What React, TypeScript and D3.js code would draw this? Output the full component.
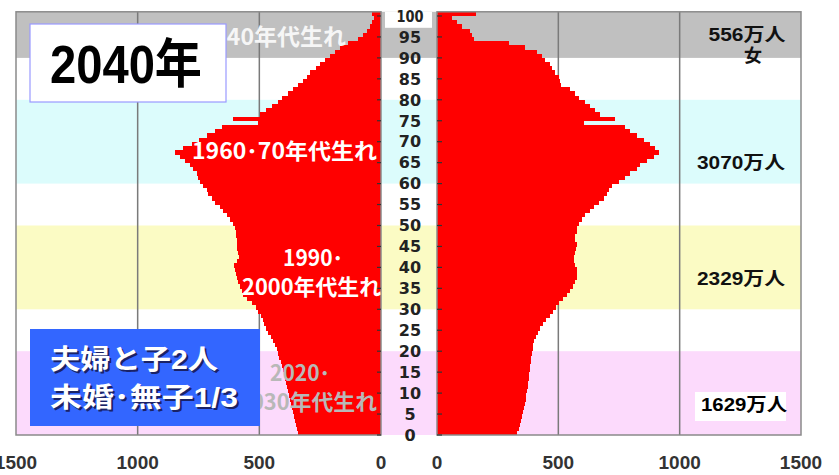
import React from "react";
import * as d3 from "d3";

// population by single year of age, 0..100+ (thousands)
const ages = d3.range(0, 101);
const male = [
  342, 346, 350, 354, 358, 362, 366, 370, 374, 378,
  383, 388, 392, 396, 400, 404, 408, 413, 418, 422,
  429, 436, 443, 454, 463, 472, 480, 486, 494, 504,
  515, 532, 550, 566, 573, 579, 586, 590, 596, 600,
  604, 590, 583, 586, 590, 590, 593, 597, 596, 600,
  607, 621, 634, 648, 662, 682, 696, 709, 716, 730,
  744, 751, 758, 771, 785, 806, 826, 847, 812, 778,
  750, 716, 682, 655, 504, 607, 497, 472, 449, 422,
  405, 381, 360, 340, 319, 305, 290, 268, 250, 230,
  210, 190, 168, 135, 95, 75, 58, 45, 36, 30,
  35,
];
const female = [
  330, 336, 342, 347, 352, 356, 360, 363, 365, 368,
  371, 374, 376, 378, 380, 383, 385, 386, 389, 391,
  394, 397, 401, 408, 415, 423, 437, 450, 464, 478,
  492, 504, 519, 536, 549, 560, 570, 577, 577, 577,
  570, 563, 566, 570, 574, 577, 570, 570, 577, 577,
  584, 597, 611, 632, 646, 666, 687, 700, 707, 721,
  749, 776, 797, 824, 838, 865, 893, 913, 900, 879,
  852, 824, 797, 776, 604, 735, 673, 652, 632, 611,
  584, 570, 549, 511, 508, 501, 488, 474, 467, 446,
  433, 412, 364, 295, 151, 144, 137, 103, 82, 62,
  162,
];

const xTicks = [0, 500, 1000, 1500];
const gridTicks = [500, 1000];
const ageTicks = d3.range(0, 101, 5);

// age bands behind the pyramid
const bandAges: [number, number][] = [[0, 20], [30, 50], [60, 80], [90, 101]];
const bandColors = ["#fcdafc", "#fbfbc4", "#dcfcfc", "#c0c0c0"];

const totals = ["1629万人", "2329万人", "3070万人", "556万人"];
const sexLabel = "女";
const title = "2040年";
const noteLines = ["夫婦と子2人", "未婚･無子1/3"];

const W = 839;
const H = 475;
const latin = "'Liberation Sans', 'Noto Sans CJK JP', sans-serif";
const cjk = "'Noto Sans CJK JP', sans-serif";

export default function App() {
  const y = d3.scaleLinear().domain([0, 101]).range([435, 11.8]);
  const xL = d3.scaleLinear().domain([0, 1500]).range([381, 16]);
  const xR = d3.scaleLinear().domain([0, 1500]).range([437, 801]);
  const bandH = y(0) - y(1);

  return (
    <svg
      width={W}
      height={H}
      style={{ position: "absolute", left: 0, top: 0 }}
    >
      <rect width={W} height={H} fill="white" />

      {/* background bands */}
      {bandAges.map(([lo, hi], i) => (
        <rect
          key={i}
          x={16}
          y={y(hi)}
          width={801 - 16}
          height={y(lo) - y(hi)}
          fill={bandColors[i]}
        />
      ))}

      {/* vertical grid */}
      {gridTicks.map((t) => (
        <g key={t} stroke="#7a7a7a" strokeWidth={1.5}>
          <line x1={xL(t)} x2={xL(t)} y1={y(101)} y2={y(0)} />
          <line x1={xR(t)} x2={xR(t)} y1={y(101)} y2={y(0)} />
        </g>
      ))}

      {/* bars */}
      <g fill="#ff0000" shapeRendering="crispEdges">
        {ages.map((a, i) => (
          <rect
            key={"m" + a}
            x={xL(male[i])}
            y={y(a + 1)}
            width={xL(0) - xL(male[i])}
            height={bandH + 0.3}
          />
        ))}
        {ages.map((a, i) => (
          <rect
            key={"f" + a}
            x={xR(0)}
            y={y(a + 1)}
            width={xR(female[i]) - xR(0)}
            height={bandH + 0.3}
          />
        ))}
      </g>

      {/* panel frames */}
      <rect
        x={xL(1500)}
        y={y(101)}
        width={xL(0) - xL(1500)}
        height={y(0) - y(101)}
        fill="none"
        stroke="#8a8a8a"
        strokeWidth={1.5}
      />
      <rect
        x={xR(0)}
        y={y(101)}
        width={xR(1500) - xR(0)}
        height={y(0) - y(101)}
        fill="none"
        stroke="#8a8a8a"
        strokeWidth={1.5}
      />

      {/* age ticks */}
      <g stroke="#333" strokeWidth={1.2}>
        {ageTicks.map((a) => (
          <g key={a}>
            <line x1={xL(0) - 4} x2={xL(0)} y1={y(a)} y2={y(a)} />
            <line x1={xR(0)} x2={xR(0) + 5} y1={y(a)} y2={y(a)} />
          </g>
        ))}
      </g>

      {/* age labels */}
      <rect x={385} y={y(101)} width={47} height={16} fill="white" />
      {ageTicks.map((a) => (
        <text
          key={a}
          x={410}
          y={y(a)}
          dy="0.36em"
          textAnchor="middle"
          fontFamily="'DejaVu Sans', sans-serif"
          fontWeight="bold"
          fontSize={16}
          fill="#222"
          textLength={a === 100 ? 27 : undefined}
          lengthAdjust="spacingAndGlyphs"
        >
          {a}
        </text>
      ))}

      {/* cohort annotations */}
      <g fontFamily={cjk} fontWeight="bold" fontSize={22}>
        <text x={346} y={45} textAnchor="end" fill="#f6f6f6" fontSize={23}>
          1930･40年代生れ
        </text>
        <text x={377} y={159} textAnchor="end" fill="white" textLength={185} lengthAdjust="spacingAndGlyphs">
          1960･70年代生れ
        </text>
        <text x={283} y={266} fill="white" textLength={60} lengthAdjust="spacingAndGlyphs">
          1990･
        </text>
        <text x={381} y={295} textAnchor="end" fill="white" textLength={139} lengthAdjust="spacingAndGlyphs">
          2000年代生れ
        </text>
        <text x={270} y={381} fill="#b8b8b8" textLength={60} lengthAdjust="spacingAndGlyphs">
          2020･
        </text>
        <text x={377} y={410} textAnchor="end" fill="#b8b8b8" textLength={139} lengthAdjust="spacingAndGlyphs">
          2030年代生れ
        </text>
      </g>

      {/* title box */}
      <rect x={30} y={24} width={196} height={78} fill="white" stroke="#9a9aff" strokeWidth={1.2} />
      <text
        x={50}
        y={83}
        fontFamily={latin}
        fontWeight="bold"
        fontSize={53}
        fill="black"
        textLength={152}
        lengthAdjust="spacingAndGlyphs"
      >
        {title}
      </text>

      {/* note box */}
      <rect x={30} y={329} width={230} height={97} fill="#3366ff" />
      {noteLines.map((s, i) => {
        const len = i === 0 ? 168 : 188;
        return (
          <g key={i} fontFamily={latin} fontWeight="bold" fontSize={27}>
            <text x={52} y={371 + i * 38} fill="#1a2266" textLength={len} lengthAdjust="spacingAndGlyphs">
              {s}
            </text>
            <text x={50} y={369 + i * 38} fill="white" textLength={len} lengthAdjust="spacingAndGlyphs">
              {s}
            </text>
          </g>
        );
      })}

      {/* totals */}
      <g fontFamily={latin} fontWeight="bold" fontSize={18} fill="#111" textAnchor="middle">
        <text x={747} y={41} textLength={77} lengthAdjust="spacingAndGlyphs">{totals[3]}</text>
        <text x={753} y={62}>{sexLabel}</text>
        <text x={741} y={169} textLength={88} lengthAdjust="spacingAndGlyphs">{totals[2]}</text>
        <text x={741} y={285} textLength={88} lengthAdjust="spacingAndGlyphs">{totals[1]}</text>
        <rect x={695} y={392} width={91} height={29} fill="white" />
        <text x={744} y={411} fill="black" textLength={86} lengthAdjust="spacingAndGlyphs">{totals[0]}</text>
      </g>

      {/* bottom axis labels */}
      <g fontFamily={latin} fontWeight="bold" fontSize={19} fill="#333" textAnchor="middle">
        {xTicks.map((t) => (
          <text key={"l" + t} x={xL(t)} y={469}>
            {t}
          </text>
        ))}
        {xTicks.map((t) => (
          <text key={"r" + t} x={xR(t)} y={469}>
            {t}
          </text>
        ))}
      </g>
    </svg>
  );
}
